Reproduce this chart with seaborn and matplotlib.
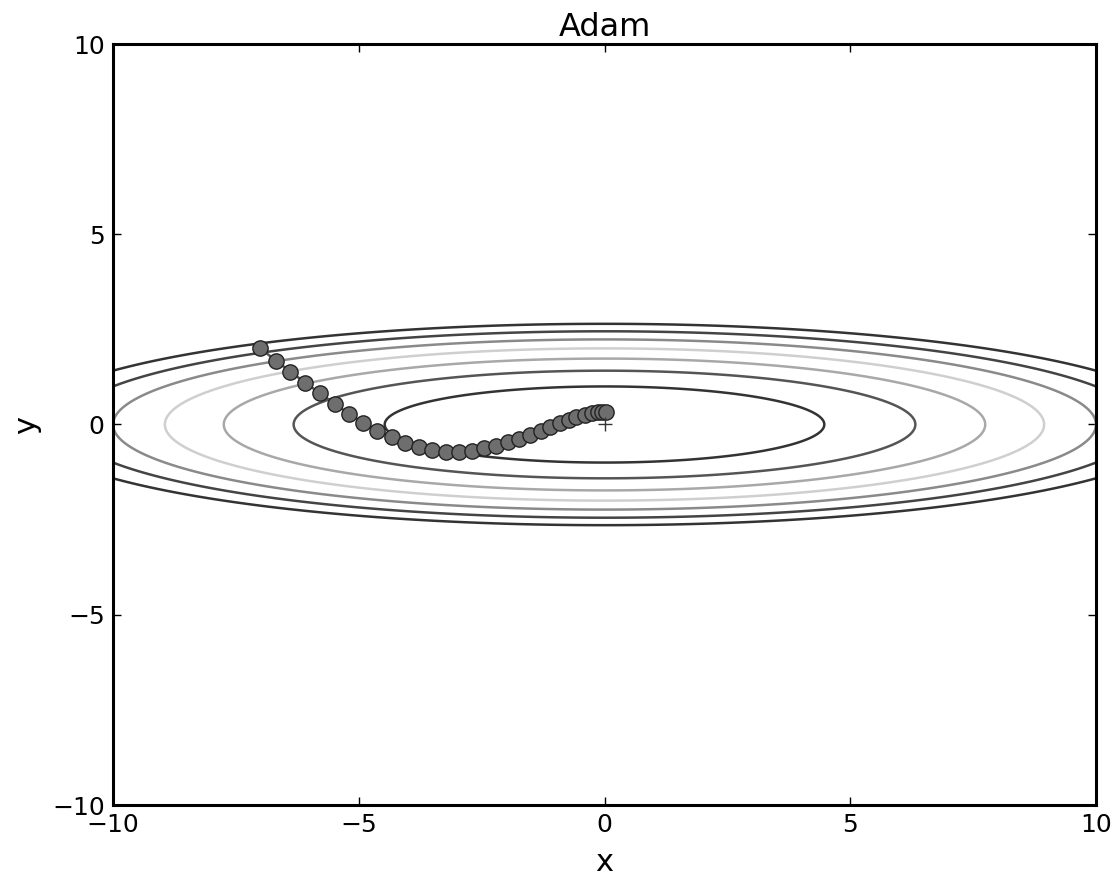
import numpy as np
import pandas as pd
import matplotlib
matplotlib.use("Agg")
import matplotlib.pyplot as plt
import seaborn as sns

# ---- data ----
title = "Adam"
path_x = [-7.00, -6.69, -6.39, -6.09, -5.79, -5.49, -5.20, -4.91, -4.62, -4.33,
          -4.05, -3.77, -3.50, -3.23, -2.96, -2.70, -2.45, -2.20, -1.96, -1.74,
          -1.52, -1.30, -1.10, -0.91, -0.73, -0.57, -0.40, -0.25, -0.13, -0.05, 0.03]
path_y = [2.00, 1.68, 1.39, 1.10, 0.82, 0.55, 0.28, 0.05, -0.16, -0.34,
          -0.49, -0.60, -0.67, -0.71, -0.71, -0.69, -0.63, -0.56, -0.47, -0.37,
          -0.28, -0.17, -0.07, 0.03, 0.13, 0.21, 0.26, 0.30, 0.32, 0.32, 0.32]
# objective f(x, y) = x^2 * a + y^2 * b
coef_x = 1.0 / 20.0
coef_y = 1.0
contour_levels = [1, 2, 3, 4, 5, 6, 7]
contour_colors = ["#333333", "#555555", "#a8a8a8", "#cfcfcf", "#8a8a8a", "#444444", "#333333"]
xticks = [-10, -5, 0, 5, 10]
yticks = [-10, -5, 0, 5, 10]

sns.set_style("ticks")
plt.rcParams["font.family"] = ["DejaVu Sans"]
plt.rcParams["axes.unicode_minus"] = True
plt.rcParams["text.color"] = "black"
plt.rcParams["axes.labelcolor"] = "black"

fig = plt.figure(figsize=(11.2, 8.88), dpi=100)
ax = fig.add_axes([113 / 1120, 1 - 805 / 888, (1096 - 113) / 1120, (805 - 44) / 888])

gx = np.arange(-10, 10.001, 0.01)
gy = np.arange(-5, 5.001, 0.01)
X, Y = np.meshgrid(gx, gy)
Z = coef_x * X ** 2 + coef_y * Y ** 2
ax.contour(X, Y, Z, levels=contour_levels, colors=contour_colors, linewidths=1.8)

df = pd.DataFrame({"x": path_x, "y": path_y})
sns.lineplot(data=df, x="x", y="y", sort=False, estimator=None, ax=ax,
             color="#555555", linewidth=1.8, marker="o", markersize=11,
             markerfacecolor="#6e6e6e", markeredgecolor="#222222", markeredgewidth=1.0)
ax.plot([0], [0], marker="+", color="#333333", markersize=10, markeredgewidth=1.0)

ax.set_xlim(-10, 10)
ax.set_ylim(-10, 10)
ax.set_xticks(xticks)
ax.set_yticks(yticks)
ax.set_xticklabels([f"{t}".replace("-", "\u2212") for t in xticks])
ax.set_yticklabels([f"{t}".replace("-", "\u2212") for t in yticks])
ax.tick_params(direction="in", length=6, width=1, top=True, right=True,
               labelsize=18, pad=6, colors="black", labelcolor="black")
for s in ax.spines.values():
    s.set_linewidth(2.2)
    s.set_color("black")
    s.set_visible(True)
ax.set_xlabel("x", fontsize=22, labelpad=8, color="black")
ax.set_ylabel("y", fontsize=22, labelpad=7.5, color="black")
ax.set_title(title, fontsize=23, pad=6, color="black")

fig.savefig("out.png", dpi=100, facecolor="white")
